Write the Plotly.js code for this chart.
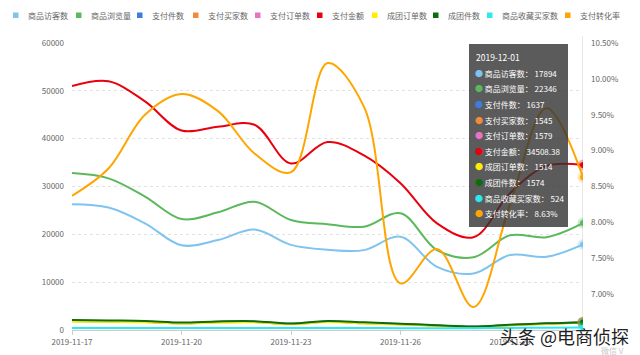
<!DOCTYPE html>
<html>
<head>
<meta charset="utf-8">
<script src="https://cdn.plot.ly/plotly-3.0.1.min.js"></script>
<style>
html,body{margin:0;padding:0;background:#fff;}
#chart{width:640px;height:355px;}
</style>
</head>
<body>
<div id="chart"></div>
<script>
// ---- data ----
const dates = ['2019-11-17','2019-11-18','2019-11-19','2019-11-20','2019-11-21','2019-11-22','2019-11-23','2019-11-24','2019-11-25','2019-11-26','2019-11-27','2019-11-28','2019-11-29','2019-11-30','2019-12-01'];
const seriesNames = ['商品访客数','商品浏览量','支付件数','支付买家数','支付订单数','支付金额','成团订单数','成团件数','商品收藏买家数','支付转化率'];
const visitors   = [26300, 25600, 22300, 17700, 18800, 21000, 17800, 16800, 16700, 19500, 13200, 11800, 15700, 15300, 17894];
const pageviews  = [32800, 31700, 27900, 23200, 24600, 26800, 23000, 22100, 21600, 24400, 16700, 15200, 19800, 19400, 22346];
const payItems   = [1950, 1900, 1750, 1450, 1700, 1700, 1300, 1800, 1500, 1250, 950, 700, 1050, 1350, 1637];
const payBuyers  = [1850, 1800, 1650, 1400, 1600, 1650, 1250, 1700, 1400, 1200, 900, 650, 1000, 1300, 1545];
const payOrders  = [1900, 1850, 1700, 1420, 1650, 1680, 1280, 1750, 1450, 1220, 920, 680, 1020, 1320, 1579];
const payAmount  = [51000, 52000, 47800, 41700, 42500, 42900, 34800, 39300, 36500, 30700, 22300, 19400, 28600, 34300, 34508.38];
const groupOrders= [1800, 1750, 1600, 1380, 1550, 1600, 1200, 1650, 1380, 1150, 880, 640, 980, 1280, 1514];
const groupItems = [2100, 2000, 1900, 1550, 1800, 1850, 1350, 1900, 1600, 1300, 1000, 750, 1100, 1400, 1574];
const favBuyers  = [420, 430, 410, 400, 420, 430, 400, 420, 410, 390, 380, 370, 430, 480, 524];
const convRate   = [8.37, 8.75, 9.50, 9.79, 9.55, 8.96, 8.70, 10.22, 9.61, 7.15, 7.63, 6.82, 8.25, 9.59, 8.63];

const xTickVals  = ['2019-11-17','2019-11-20','2019-11-23','2019-11-26','2019-11-29'];
const leftTicks  = [0, 10000, 20000, 30000, 40000, 50000, 60000];
const rightTicks = [7.0, 7.5, 8.0, 8.5, 9.0, 9.5, 10.0, 10.5];
const rightTickText = ['7.00%','7.50%','8.00%','8.50%','9.00%','9.50%','10.00%','10.50%'];

// ---- styles ----
const colors = ['#7ec4ef','#5cb85c','#3d7ddf','#f08a3c','#e872c6','#e8000e','#ffee00','#0b6e0b','#2ee8ef','#ffa500'];
const allValues = [visitors, pageviews, payItems, payBuyers, payOrders, payAmount, groupOrders, groupItems, favBuyers, convRate];
const font = '"Noto Sans CJK SC","Noto Sans",sans-serif';

const traces = [];
allValues.forEach((vals, i) => {
  traces.push({
    type:'scatter', mode:'lines', x: dates, y: vals, name: seriesNames[i],
    yaxis: i === 9 ? 'y2' : 'y',
    line:{color: colors[i], width: 2, shape:'spline', smoothing: 1},
    showlegend:false, hoverinfo:'skip'
  });
});
// emphasis markers at last point
allValues.forEach((vals, i) => {
  const n = vals.length - 1;
  traces.push({
    type:'scatter', mode:'markers', x:[dates[n]], y:[vals[n]], yaxis: i === 9 ? 'y2':'y',
    marker:{size:11, color: colors[i], opacity:0.3}, showlegend:false, hoverinfo:'skip'
  });
  traces.push({
    type:'scatter', mode:'markers', x:[dates[n]], y:[vals[n]], yaxis: i === 9 ? 'y2':'y',
    marker:{size:6, color: colors[i]}, showlegend:false, hoverinfo:'skip'
  });
});

// pixel -> paper helpers (plot area 72..583 x 43..330)
const L = 72, R = 583, T = 43, B = 330;
const px = v => (v - L) / (R - L);
const py = v => (B - v) / (B - T);

const shapes = [];
const annotations = [];

// legend
const legendX = [13, 76, 137, 193, 255, 317, 372, 433, 487, 565];
seriesNames.forEach((nm, i) => {
  const x0 = legendX[i];
  shapes.push({type:'rect', xref:'paper', yref:'paper', x0: px(x0), x1: px(x0+5.5), y0: py(18), y1: py(12.5),
    fillcolor: colors[i], line:{width:0}, layer:'above'});
  annotations.push({xref:'paper', yref:'paper', x: px(x0+13), y: py(15.5), xanchor:'left', yanchor:'middle',
    text: nm, showarrow:false, font:{family:font, size:8, color:'#666'}});
});

// axis pointer line
const lastDate = dates[dates.length-1];
shapes.push({type:'line', xref:'x', yref:'paper', x0:lastDate, x1:lastDate, y0:0, y1:py(36), line:{color:'#d0d0d0', width:1}, layer:'below'});

// tooltip box
shapes.push({type:'rect', xref:'paper', yref:'paper', x0:px(469), x1:px(568), y0:py(227), y1:py(44),
  fillcolor:'rgba(50,50,50,0.8)', line:{width:0}, layer:'above'});
annotations.push({xref:'paper', yref:'paper', x: px(474), y: py(57), xanchor:'left', yanchor:'middle', showarrow:false,
  text: lastDate, font:{family:font, size:8.5, color:'#fff'}});
seriesNames.forEach((nm, i) => {
  const v = allValues[i][allValues[i].length-1];
  const vs = i === 9 ? v.toFixed(2) + '%' : String(v);
  annotations.push({xref:'paper', yref:'paper', x: px(473), y: py(73.3 + i*15.6), xanchor:'left', yanchor:'middle', showarrow:false,
    text: '<span style="color:' + colors[i] + '">●</span> ' + nm + '： ' + vs,
    font:{family:font, size:8, color:'#fff'}});
});

// watermark
annotations.push({xref:'paper', yref:'paper', x: px(564), y: py(336), xanchor:'center', yanchor:'middle', showarrow:false,
  text:'头条 @电商侦探', font:{family:font, size:18, color:'#222'}});
annotations.push({xref:'paper', yref:'paper', x: px(612), y: py(350), xanchor:'center', yanchor:'middle', showarrow:false,
  text:'微信 V', font:{family:font, size:8, color:'#c8c8c8'}});

const layout = {
  width:640, height:355,
  margin:{l:L, r:640-R, t:T, b:355-B, pad:0},
  paper_bgcolor:'#fff', plot_bgcolor:'#fff',
  font:{family:font, size:8, color:'#666'},
  hovermode:false,
  showlegend:false,
  xaxis:{type:'date', range:[dates[0], lastDate], tickvals:xTickVals, tickformat:'%Y-%m-%d',
    showgrid:false, zeroline:false, showline:true, linecolor:'#ccc', linewidth:1,
    ticks:'outside', ticklen:4, tickcolor:'#ccc', tickfont:{family:font, size:8, color:'#666'}},
  yaxis:{range:[0,60000], tickvals:leftTicks, tickformat:'d', showgrid:true, gridcolor:'#e3e3e3', griddash:'dot', gridwidth:1,
    zeroline:false, showline:false, ticks:'', ticklabelstandoff:7, tickfont:{family:font, size:8, color:'#666'}},
  yaxis2:{range:[6.5,10.5], overlaying:'y', side:'right', tickvals:rightTicks, ticktext:rightTickText,
    showgrid:false, zeroline:false, showline:false, ticks:'', ticklabelstandoff:7, tickfont:{family:font, size:8, color:'#666'}},
  shapes: shapes,
  annotations: annotations
};

Plotly.newPlot('chart', traces, layout, {displayModeBar:false, staticPlot:true});
</script>
</body>
</html>
